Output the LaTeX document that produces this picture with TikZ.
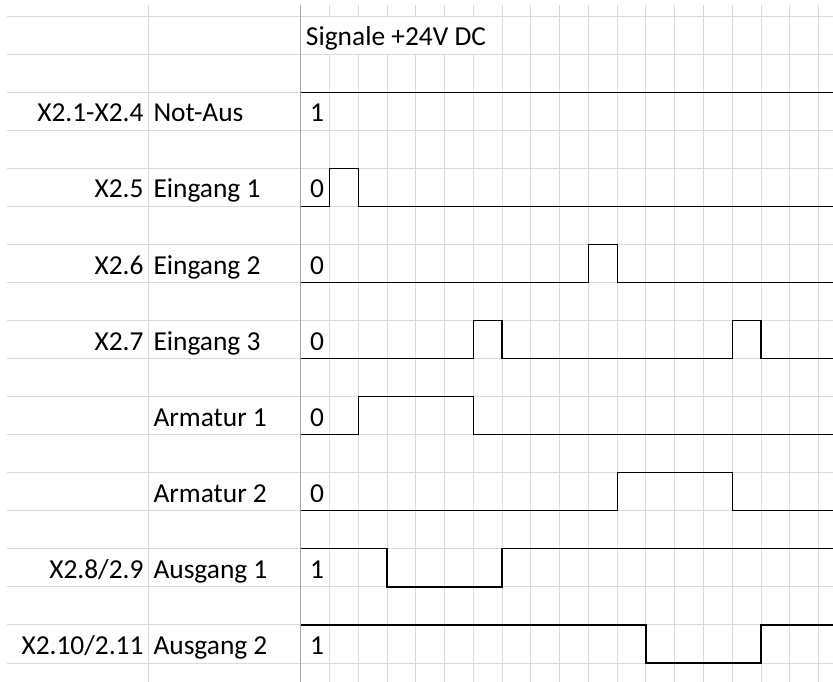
\documentclass[tikz,border=0pt]{standalone}
\usepackage{fontspec}
\setmainfont{Carlito}
\definecolor{gridgray}{HTML}{DADADA}
\definecolor{panegray}{HTML}{A6A6A6}
\begin{document}
\begin{tikzpicture}[x=14.385pt,y=-19.03pt,
  grid/.style={draw=gridgray,line width=0.5pt},
  sig/.style={draw=black,line width=0.6pt},
  txt/.style={inner sep=0pt,font=\fontsize{13.7}{15}\selectfont}]
\useasboundingbox[fill=white] (-10.452,-0.4204) rectangle (18.502,17.4987);
% grid
\foreach \r in {0,...,17}
  \draw[grid] (-10.21,\r) -- (18.51,\r);
\draw[grid] (-5.273,-0.289) -- (-5.273,17.5);
\foreach \c in {1,...,6} {
  \draw[grid] (\c,-0.289) -- (\c,0);
  \draw[grid] (\c,1) -- (\c,17.5);
}
\foreach \c in {7,...,18}
  \draw[grid] (\c,-0.289) -- (\c,17.5);
\draw[draw=panegray,line width=0.6pt] (0,-0.289) -- (0,17.5);
% signals
\draw[sig] (0,2) -- (18.51,2);
\draw[sig] (0,5) -| (1,4) -| (2,5) -- (18.51,5);
\draw[sig] (0,7) -| (10,6) -| (11,7) -- (18.51,7);
\draw[sig] (0,9) -| (6,8) -| (7,9) -| (15,8) -| (16,9) -- (18.51,9);
\draw[sig] (0,11) -| (2,10) -| (6,11) -- (18.51,11);
\draw[sig] (0,13) -| (11,12) -| (15,13) -- (18.51,13);
\draw[sig] (0,14) -| (3,15) -| (7,14) -- (18.51,14);
\draw[sig] (0,16) -| (12,17) -| (16,16) -- (18.51,16);
% texts
\node[txt,anchor=base west] (title) at (0.17,0.78) {Signale +24V DC};
\foreach \term/\name/\val [count=\i] in {X2.1-X2.4/Not-Aus/1,
    X2.5/Eingang 1/0, X2.6/Eingang 2/0, X2.7/Eingang 3/0,
    {}/Armatur 1/0, {}/Armatur 2/0,
    {X2.8/2.9}/Ausgang 1/1, {X2.10/2.11}/Ausgang 2/1} {
  \node[txt,anchor=base east] (term\i) at (-5.45,{2*\i+0.78}) {\term};
  \node[txt,anchor=base west] (name\i) at (-5.13,{2*\i+0.78}) {\name};
  \node[txt,anchor=base] (val\i) at (0.57,{2*\i+0.78}) {\val};
}
\end{tikzpicture}
\end{document}
